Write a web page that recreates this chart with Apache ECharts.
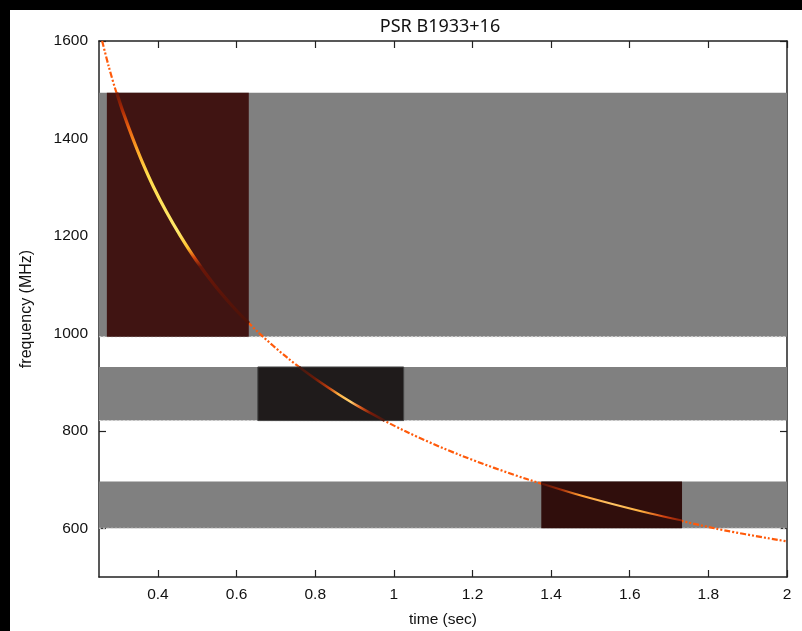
<!DOCTYPE html>
<html>
<head>
<meta charset="utf-8">
<script src="https://cdn.jsdelivr.net/npm/echarts@6/dist/echarts.min.js"></script>
<style>
  html, body { margin: 0; padding: 0; background: #000; }
  #main { width: 802px; height: 631px; }
</style>
</head>
<body>
<div id="main"></div>
<script>
// tick labels
const xTicks = [0.4, 0.6, 0.8, 1, 1.2, 1.4, 1.6, 1.8, 2];
const yTicks = [600, 800, 1000, 1200, 1400, 1600];

// receiver bands (MHz)
const bandLow = [993, 821, 600];
const bandHigh = [1494, 931, 696];

// observed data windows (sec)
const obsStart = [0.27, 0.654, 1.375];
const obsEnd = [0.631, 1.025, 1.733];

// dispersion sweep
const sweepTime = [0.258, 0.274, 0.292, 0.313, 0.336, 0.361, 0.389, 0.421, 0.457, 0.497, 0.543,
  0.596, 0.658, 0.729, 0.812, 0.910, 1.027, 1.169, 1.342, 1.556, 1.815, 2.0];
const sweepFreq = [1600, 1550, 1500, 1450, 1400, 1350, 1300, 1250, 1200, 1150, 1100,
  1050, 1000, 950, 900, 850, 800, 750, 700, 650, 600, 573];

// pulse streaks inside each window
const topStreakTime = [0.295, 0.313, 0.336, 0.361, 0.389, 0.421, 0.457, 0.497, 0.543, 0.596, 0.631];
const topStreakFreq = [1494, 1450, 1400, 1350, 1300, 1250, 1200, 1150, 1100, 1050, 1021];
const midStreakTime = [0.759, 0.812, 0.859, 0.910, 0.976];
const midStreakFreq = [931, 900, 875, 850, 821];
const lowStreakTime = [1.375, 1.46, 1.556, 1.65, 1.733];
const lowStreakFreq = [692, 671, 650, 631, 616];

const windowColors = ['#401412', '#1f1b1b', '#300e0c'];

const zip = (a, b) => a.map((v, i) => [v, b[i]]);
const font = 'Liberation Sans';

const myChart = echarts.init(document.getElementById('main'));

const grad = (x2, y2, stops) => ({
  type: 'linear', x: 0, y: 0, x2: x2, y2: y2,
  colorStops: stops.map(s => ({ offset: s[0], color: s[1] }))
});

const axisCommon = {
  type: 'value',
  axisLine: { show: true, lineStyle: { color: '#222', width: 1.5 } },
  axisTick: { show: true, inside: true, length: 7, lineStyle: { color: '#222', width: 1.2 } },
  splitLine: { show: false }
};

myChart.setOption({
  animation: false,
  backgroundColor: 'transparent',
  graphic: [{
    type: 'rect', z: -10, silent: true,
    shape: { x: 10, y: 10, width: 792, height: 621 },
    style: { fill: '#fff' }
  }],
  title: {
    text: 'PSR B1933+16',
    left: 435, top: 13, textAlign: 'center',
    textStyle: { fontFamily: 'Noto Sans', fontWeight: 'normal', fontSize: 18, color: '#111' }
  },
  grid: { left: 99, right: 15, top: 41, bottom: 54, outerBoundsMode: 'none' },
  xAxis: [
    Object.assign({}, axisCommon, {
      min: 0.25, max: 2, position: 'bottom',
      name: 'time (sec)', nameLocation: 'middle', nameGap: 35,
      nameTextStyle: { fontFamily: font, fontSize: 15.5, color: '#111' },
      axisTick: Object.assign({}, axisCommon.axisTick, { customValues: xTicks }),
      axisLabel: { customValues: xTicks, margin: 10, fontFamily: font, fontSize: 15.5, color: '#111',
        formatter: v => String(+(+v).toFixed(1)) }
    }),
    Object.assign({}, axisCommon, {
      min: 0.25, max: 2, position: 'top',
      axisTick: Object.assign({}, axisCommon.axisTick, { customValues: xTicks }),
      axisLabel: { show: false }
    })
  ],
  yAxis: [
    Object.assign({}, axisCommon, {
      min: 500, max: 1600, position: 'left',
      name: 'frequency (MHz)', nameLocation: 'middle', nameGap: 64, nameRotate: 90,
      nameTextStyle: { fontFamily: font, fontSize: 16, color: '#111' },
      axisTick: Object.assign({}, axisCommon.axisTick, { customValues: yTicks }),
      axisLabel: { customValues: yTicks, margin: 11, fontFamily: font, fontSize: 15.5, color: '#111',
        formatter: v => String(Math.round(v)) }
    }),
    Object.assign({}, axisCommon, {
      min: 500, max: 1600, position: 'right',
      axisTick: Object.assign({}, axisCommon.axisTick, { customValues: yTicks }),
      axisLabel: { show: false }
    })
  ],
  series: [
    {
      // grey receiver bands
      type: 'custom', z: 1, clip: true,
      data: bandLow.map((lo, i) => [0.25, 2, lo, bandHigh[i]]),
      renderItem: (params, api) => {
        const p0 = api.coord([api.value(0), api.value(3)]);
        const p1 = api.coord([api.value(1), api.value(2)]);
        return {
          type: 'group',
          children: [
            { type: 'rect', shape: { x: p0[0], y: p0[1], width: p1[0] - p0[0], height: p1[1] - p0[1] },
              style: { fill: '#808080' } },
            { type: 'line', shape: { x1: p0[0], y1: p1[1], x2: p1[0], y2: p1[1] },
              style: { stroke: '#d8d8d8', lineWidth: 1, lineDash: [2, 2] } }
          ]
        };
      }
    },
    {
      type: 'line', z: 2, symbol: 'none', smooth: 0.3,
      data: zip(sweepTime, sweepFreq),
      lineStyle: { color: '#ff5a0a', width: 2.2, type: [6, 2, 2, 2, 2, 2] }
    },
    {
      // observed windows
      type: 'custom', z: 3, clip: true,
      data: obsStart.map((s, i) => [s, obsEnd[i], bandLow[i], bandHigh[i], i]),
      renderItem: (params, api) => {
        const p0 = api.coord([api.value(0), api.value(3)]);
        const p1 = api.coord([api.value(1), api.value(2)]);
        const i = api.value(4);
        return {
          type: 'rect',
          shape: { x: p0[0], y: p0[1], width: p1[0] - p0[0], height: p1[1] - p0[1] },
          style: { fill: windowColors[i], stroke: i === 1 ? '#444' : null, lineWidth: 1 }
        };
      }
    },
    {
      type: 'line', z: 4, symbol: 'none', smooth: 0.3,
      data: zip(topStreakTime, topStreakFreq),
      lineStyle: { width: 3.2, color: grad(0, 1, [
        [0, '#5a1208'], [0.08, '#a82805'], [0.16, '#e86010'], [0.26, '#ffa828'],
        [0.36, '#ffdc4c'], [0.6, '#ffe86a'], [0.67, '#ffc030'], [0.71, '#d84a0e'],
        [0.75, '#6a1608'], [1, '#4a1209']]) }
    },
    {
      type: 'line', z: 4, symbol: 'none', smooth: 0.3,
      data: zip(midStreakTime, midStreakFreq),
      lineStyle: { width: 2.5, color: grad(1, 0, [
        [0, '#3a1a14'], [0.2, '#6a1a08'], [0.36, '#c04010'], [0.46, '#ffb040'],
        [0.6, '#ffd070'], [0.7, '#e06020'], [0.82, '#7a1a08'], [1, '#3a1a14']]) }
    },
    {
      type: 'line', z: 4, symbol: 'none', smooth: 0.3,
      data: zip(lowStreakTime, lowStreakFreq),
      lineStyle: { width: 2, color: grad(1, 0, [
        [0, '#4a1008'], [0.15, '#a02a08'], [0.28, '#ff9a30'], [0.5, '#ffc466'],
        [0.7, '#ffb040'], [0.86, '#d04010'], [1, '#7a1a08']]) }
    }
  ]
});

window.onresize = () => { myChart.resize(); };
</script>
</body>
</html>
